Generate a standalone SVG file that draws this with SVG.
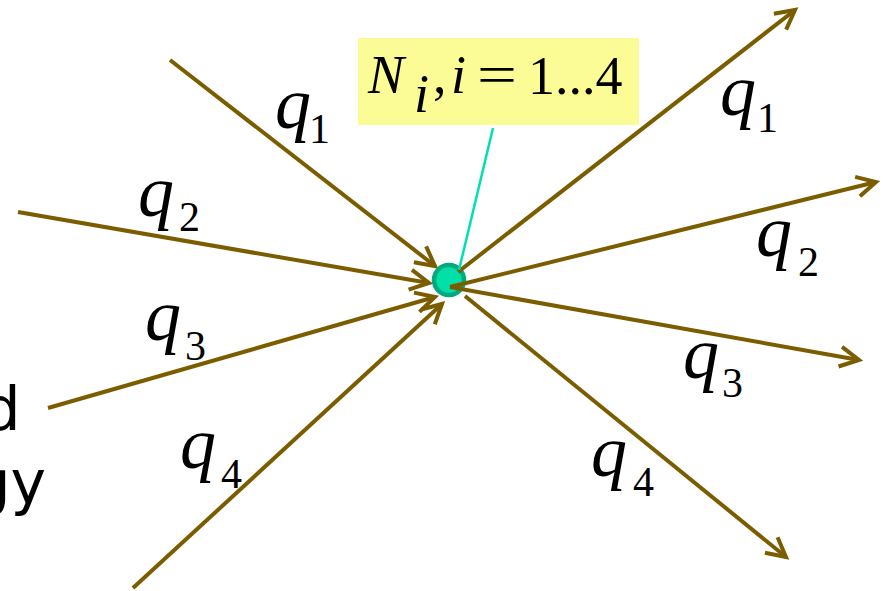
<svg xmlns="http://www.w3.org/2000/svg" width="883" height="591" viewBox="0 0 883 591">
<defs>
<style>
.flow{stroke:#7B5D00;stroke-width:4;fill:none;marker-end:url(#ah)}
.q{font-family:'Liberation Serif','Times New Roman',serif;font-style:italic;font-size:72px;fill:#000}
.s{font-family:'Liberation Serif','Times New Roman',serif;font-size:42px;fill:#000}
.side{font-family:'DejaVu Sans',sans-serif;font-size:60px;fill:#000}
.eq{font-family:'Liberation Serif','Times New Roman',serif;font-size:54px;fill:#000}
</style>
<marker id="ah" markerUnits="userSpaceOnUse" markerWidth="30" markerHeight="30" viewBox="-24 -15 30 30" refX="0" refY="0" orient="auto" overflow="visible">
<path d="M -19 -10 L 0 0 L -19 10" fill="none" stroke="#7B5D00" stroke-width="4" stroke-linejoin="miter"/>
</marker>
</defs>
<rect width="883" height="591" fill="#fff"/>
<g id="side-text">
<text class="side" x="20.5" y="430" text-anchor="end">d</text>
<text class="side" x="46" y="503" text-anchor="end">gy</text>
</g>
<g id="connectors-in">
<line class="flow" x1="170" y1="60" x2="435" y2="266"/>
<line class="flow" x1="18" y1="212" x2="429" y2="283"/>
<line class="flow" x1="48" y1="408" x2="435" y2="297"/>
<line class="flow" x1="133" y1="588" x2="442" y2="304"/>
</g>
<g id="node">
<circle cx="449" cy="280" r="15" fill="#00E0A8" stroke="#00AA80" stroke-width="4.5"/>
</g>
<g id="connectors-out">
<line class="flow" x1="458" y1="272" x2="795" y2="10"/>
<line class="flow" x1="450" y1="287" x2="876" y2="182"/>
<line class="flow" x1="450" y1="287" x2="859" y2="360"/>
<line class="flow" x1="465" y1="296" x2="786" y2="557"/>
<line x1="493" y1="128" x2="459" y2="270" stroke="#00E0B0" stroke-width="2.5"/>
</g>
<g id="label">
<rect x="358" y="38" width="281" height="87" fill="#FCFC96"/>
<text class="eq" x="368" y="93" font-style="italic" font-size="58">N</text>
<text class="eq" x="414" y="112" font-style="italic" font-size="32">i</text>
<text class="eq" x="433" y="93">,</text>
<text class="eq" x="451" y="93" font-style="italic" font-size="58">i</text>
<text class="eq" x="477" y="93" textLength="40" lengthAdjust="spacingAndGlyphs">=</text>
<text class="eq" x="528" y="94" font-size="58">1...4</text>
</g>
<g id="labels-in">
<text class="q" x="275" y="128">q</text><text class="s" x="309" y="143">1</text>
<text class="q" x="138" y="216">q</text><text class="s" x="179" y="231">2</text>
<text class="q" x="145" y="340">q</text><text class="s" x="185" y="360">3</text>
<text class="q" x="180" y="468">q</text><text class="s" x="221" y="488">4</text>
</g>
<g id="labels-out">
<text class="q" x="720" y="115">q</text><text class="s" x="757" y="132">1</text>
<text class="q" x="756" y="256">q</text><text class="s" x="798" y="276">2</text>
<text class="q" x="683" y="378">q</text><text class="s" x="722" y="397">3</text>
<text class="q" x="591" y="476">q</text><text class="s" x="633" y="496">4</text>
</g>
</svg>
